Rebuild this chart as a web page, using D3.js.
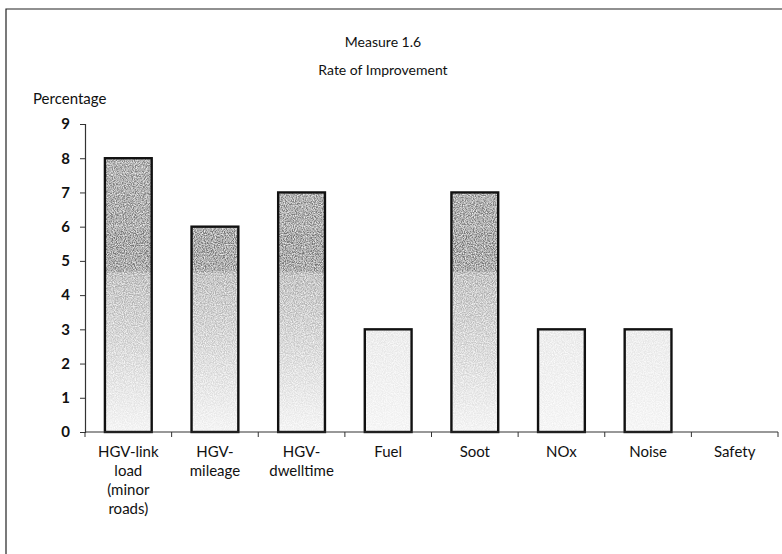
<!DOCTYPE html>
<html>
<head>
<meta charset="utf-8">
<script src="https://cdn.jsdelivr.net/npm/d3@7"></script>
<style>
  body { margin: 0; background: #fff; }
  svg text { font-family: Lato, "Open Sans", sans-serif; fill: #111; }
</style>
</head>
<body>
<script>
// chart data
var categories = ["HGV-link load (minor roads)", "HGV- mileage", "HGV- dwelltime", "Fuel", "Soot", "NOx", "Noise", "Safety"];
var labelLines = [["HGV-link", "load", "(minor", "roads)"], ["HGV-", "mileage"], ["HGV-", "dwelltime"], ["Fuel"], ["Soot"], ["NOx"], ["Noise"], ["Safety"]];
var values = [8, 6, 7, 3, 7, 3, 3, 0];
var yTicks = [0, 1, 2, 3, 4, 5, 6, 7, 8, 9];

var width = 782, height = 554;
var margin = {top: 124, right: 4, bottom: 122, left: 85};

var svg = d3.select("body").append("svg")
    .attr("width", width)
    .attr("height", height);

var data1 = categories.map((c, i) => ({name: c, value: values[i], lines: labelLines[i]}));

var x = d3.scaleBand()
    .domain(categories)
    .range([margin.left, width - margin.right])
    .paddingInner(0.46)
    .paddingOuter(0.23);

var y = d3.scaleLinear()
    .domain([0, 9])
    .range([height - margin.bottom, margin.top]);

// grainy grey fills: tall bars darken above ~4.7, short bars stay light
var defs = svg.append("defs");
function gradient(id, stops) {
  var g = defs.append("linearGradient")
      .attr("id", id)
      .attr("gradientUnits", "userSpaceOnUse")
      .attr("x1", 0).attr("x2", 0)
      .attr("y1", y(0)).attr("y2", y(8));
  stops.forEach(s => g.append("stop").attr("offset", s[0]).attr("stop-color", s[1]));
}
gradient("barFill", [[0, "#f0f0f0"], [0.2, "#d8d8d8"], [0.4, "#bdbdbd"], [0.58, "#a6a6a6"], [0.59, "#7a7a7a"], [0.73, "#747474"], [0.75, "#8a8a8a"], [0.77, "#7c7c7c"], [1, "#858585"]]);
gradient("barLight", [[0, "#f2f2f2"], [0.375, "#e4e4e4"], [1, "#e4e4e4"]]);

var f = defs.append("filter").attr("id", "grain").attr("x", 0).attr("y", 0).attr("width", 1).attr("height", 1);
f.append("feTurbulence").attr("type", "fractalNoise").attr("baseFrequency", 0.9).attr("numOctaves", 2).attr("seed", 3).attr("result", "noise");
f.append("feColorMatrix").attr("in", "noise").attr("type", "matrix")
    .attr("values", "0 0 0 0 1  0 0 0 0 1  0 0 0 0 1  0 0 0 -1.6 1.1").attr("result", "spk");
f.append("feComposite").attr("in", "spk").attr("in2", "SourceGraphic").attr("operator", "in").attr("result", "spk2");
f.append("feMerge").call(m => { m.append("feMergeNode").attr("in", "SourceGraphic"); m.append("feMergeNode").attr("in", "spk2"); });

// frame (top and left only)
svg.append("path")
    .attr("d", `M6,${height}V9H${width}`)
    .attr("fill", "none")
    .attr("stroke", "#222")
    .attr("stroke-width", 1.2);

// titles
svg.append("text")
    .attr("x", 383).attr("y", 47)
    .attr("text-anchor", "middle")
    .style("font-size", "14px")
    .text("Measure 1.6");
svg.append("text")
    .attr("x", 383).attr("y", 75)
    .attr("text-anchor", "middle")
    .style("font-size", "14px")
    .text("Rate of Improvement");
svg.append("text")
    .attr("x", 33).attr("y", 104)
    .style("font-size", "15px")
    .text("Percentage");

// bars
svg.append("g")
  .selectAll("rect")
  .data(data1.filter(d => d.value > 0))
  .join("rect")
    .attr("x", d => x(d.name))
    .attr("y", d => y(d.value))
    .attr("height", d => y(0) - y(d.value))
    .attr("width", x.bandwidth())
    .attr("fill", d => d.value > 4.7 ? "url(#barFill)" : "url(#barLight)")
    .attr("filter", "url(#grain)");

svg.append("g")
  .selectAll("rect")
  .data(data1.filter(d => d.value > 0))
  .join("rect")
    .attr("x", d => x(d.name))
    .attr("y", d => y(d.value))
    .attr("height", d => y(0) - y(d.value))
    .attr("width", x.bandwidth())
    .attr("fill", "none")
    .attr("stroke", "#111")
    .attr("stroke-width", 2.4);

// y axis
var yAxis = svg.append("g")
    .attr("transform", `translate(${margin.left},0)`)
    .call(d3.axisLeft(y).tickValues(yTicks).tickSize(5).tickPadding(10));
yAxis.select(".domain").attr("stroke", "#333").attr("stroke-width", 1.2);
yAxis.selectAll(".tick line").attr("stroke", "#333");
yAxis.selectAll(".tick text").style("font-size", "15px").style("font-weight", "bold").attr("fill", "#111");

// x axis: ticks at band edges
var xAxisG = svg.append("g")
    .attr("transform", `translate(0,${y(0)})`);
xAxisG.append("line")
    .attr("x1", margin.left).attr("x2", width - margin.right)
    .attr("stroke", "#333").attr("stroke-width", 1.2);
var step = x.step();
xAxisG.selectAll(".xt")
  .data(d3.range(categories.length + 1))
  .join("line")
    .attr("class", "xt")
    .attr("x1", i => margin.left + i * step).attr("x2", i => margin.left + i * step)
    .attr("y1", 0).attr("y2", 5)
    .attr("stroke", "#333");

// category labels
var lbl = svg.append("g").selectAll("text")
  .data(data1)
  .join("text")
    .attr("text-anchor", "middle")
    .attr("x", d => x(d.name) + x.bandwidth() / 2)
    .attr("y", y(0) + 25)
    .style("font-size", "15px");
lbl.selectAll("tspan")
  .data(d => d.lines.map(t => ({t: t, x: x(d.name) + x.bandwidth() / 2})))
  .join("tspan")
    .attr("x", t => t.x)
    .attr("dy", (t, i) => i === 0 ? 0 : 19)
    .text(t => t.t);
</script>
</body>
</html>
